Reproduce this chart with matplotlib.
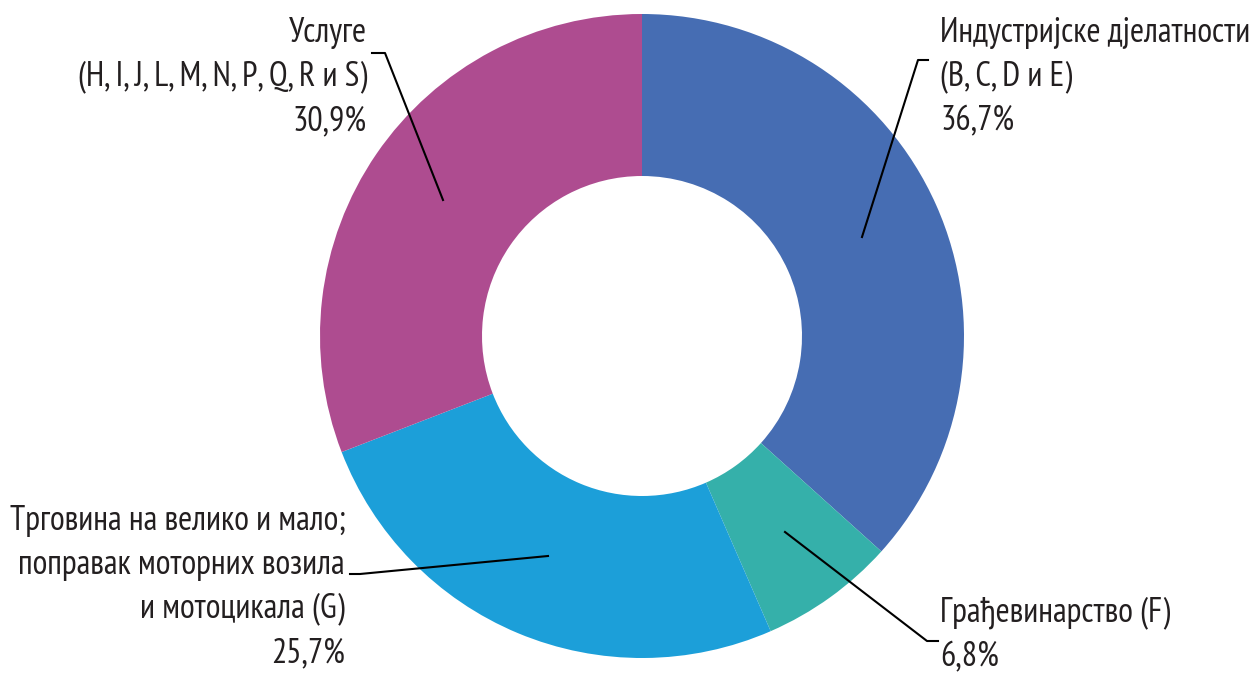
import matplotlib.pyplot as plt

# udio sektora (%)
sektori = ["Индустријске дјелатности\n(B, C, D и E)",
           "Грађевинарство (F)",
           "Трговина на велико и мало;\nпоправак моторних возила\nи мотоцикала (G)",
           "Услуге\n(H, I, J, L, M, N, P, Q, R и S)"]
udio = [36.7, 6.8, 25.7, 30.9]
udio_txt = ["36,7%", "6,8%", "25,7%", "30,9%"]
boje = ["#466DB3", "#35B0AA", "#1C9FD9", "#AE4C90"]

plt.rcParams['font.family'] = ['PT Sans Narrow', 'DejaVu Sans']
H = 674
fig = plt.figure(figsize=(12.52, 6.74), dpi=100)
ax = fig.add_axes([0, 0, 1, 1])

cx, cy, r = 642, H - 336, 322
ax.pie(udio, colors=boje, startangle=90, counterclock=False, center=(cx, cy),
       radius=r, wedgeprops=dict(width=162, linewidth=0), frame=True)
ax.set_xlim(0, 1252)
ax.set_ylim(0, H)
ax.set_aspect('equal')
ax.axis('off')

tc = "#231F20"
fs = 24.5
ls = 1.47
# tekst: (x, baseline zadnjeg reda, poravnanje)
poz = [(940, 130, 'left'), (940, 666, 'left'), (345, 662, 'right'), (367, 130, 'right')]
# linije: tačke u pikselima
linije = [[(928, 60), (918, 60), (862, 237)],
          [(938, 641), (927, 641), (785, 532)],
          [(350, 574), (360, 574), (548, 556)],
          [(372, 53), (385, 53), (443, 200)]]

for i in range(4):
    x, y, ha = poz[i]
    ax.text(x, H - y, sektori[i] + "\n" + udio_txt[i], ha=ha, va='baseline',
            fontsize=fs, color=tc, linespacing=ls, multialignment=ha)
    xs = [p[0] for p in linije[i]]
    ys = [H - p[1] for p in linije[i]]
    ax.plot(xs, ys, color='black', lw=1.5)

fig.savefig('out.png', dpi=100)
